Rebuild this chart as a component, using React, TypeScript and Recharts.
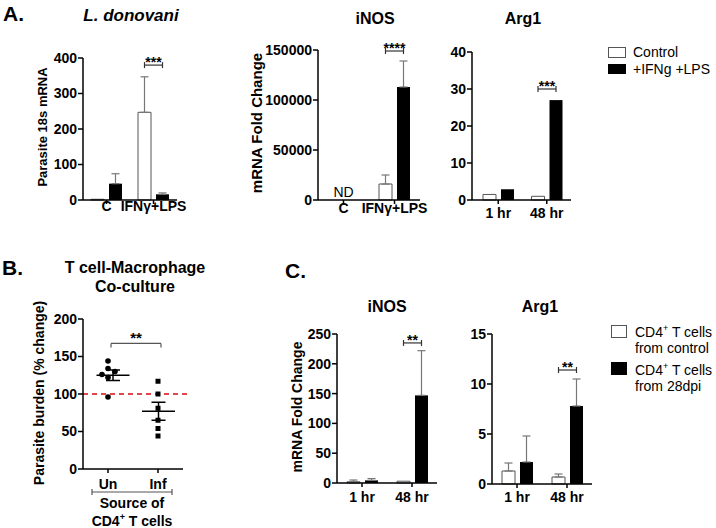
import React from "react";
import {
  BarChart,
  Bar,
  XAxis,
  YAxis,
  ErrorBar,
  ScatterChart,
  Scatter,
  ReferenceLine,
} from "recharts";

const FONT = "'Liberation Sans', Arial, Helvetica, sans-serif";
const BAR_SIZE = 13;
const BAR_GAP = 5;
const ERR = "#777";
const OUTLINE = "#555";

// A. L. donovani parasite load
const parasiteCats = ["C", "IFNγ+LPS"];
const parasiteControl = [2, 247];
const parasiteControlErr = [null, 100];
const parasiteTreated = [46, 16];
const parasiteTreatedErr = [28, 4];
const parasiteSig = [null, 380];
const parasiteStars = ["", "***"];

// A. iNOS
const inosCats = ["C", "IFNγ+LPS"];
const inosControl = [0, 16000];
const inosControlErr = [null, 9000];
const inosTreated = [0, 113000];
const inosTreatedErr = [null, 26000];
const inosSig = [null, 149000];
const inosStars = ["", "****"];
const inosNd = [true, false];

// A. Arg1
const arg1Cats = ["1 hr", "48 hr"];
const arg1Control = [1.5, 1.0];
const arg1Treated = [2.9, 27];
const arg1Sig = [null, 30];
const arg1Stars = ["", "***"];

// B. co-culture
const bCats = ["Un", "Inf"];
const unX = [1.0, 1.0, 1.14, 0.88, 1.0, 1.0];
const unY = [144, 134, 130, 126, 122, 96];
const infX = [2.0, 2.0, 2.0, 2.0, 2.0, 2.0];
const infY = [117, 100, 81, 65, 54, 44];
const groupCenter = [1.1, 2.01];
const groupMean = [125, 77];
const groupSemLow = [118, 65];
const groupSemHigh = [132, 89];

// C. iNOS / Arg1 after T cell co-culture
const cCats = ["1 hr", "48 hr"];
const cInosControl = [2, 3];
const cInosControlErr = [3, null];
const cInosTreated = [4.4, 147];
const cInosTreatedErr = [3, 75];
const cInosSig = [null, 235];
const cInosStars = ["", "**"];

const cArgControl = [1.3, 0.7];
const cArgControlErr = [0.8, 0.3];
const cArgTreated = [2.2, 7.8];
const cArgTreatedErr = [2.6, 2.7];
const cArgSig = [null, 11.4];
const cArgStars = ["", "**"];

type Row = {
  cat: string;
  control: number;
  controlErr: number[] | null;
  treated: number;
  treatedErr: number[] | null;
  sig: number | null;
  stars: string;
  nd: boolean;
};

const rows = (
  cats: string[],
  control: number[],
  controlErr: (number | null)[] | null,
  treated: number[],
  treatedErr: (number | null)[] | null,
  sig: (number | null)[],
  stars: string[],
  nd?: boolean[]
): Row[] =>
  cats.map((c, i) => ({
    cat: c,
    control: control[i],
    controlErr: controlErr && controlErr[i] != null ? [0, controlErr[i] as number] : null,
    treated: treated[i],
    treatedErr: treatedErr && treatedErr[i] != null ? [0, treatedErr[i] as number] : null,
    sig: sig[i],
    stars: stars[i],
    nd: nd ? nd[i] : false,
  }));

const parasiteData = rows(parasiteCats, parasiteControl, parasiteControlErr, parasiteTreated, parasiteTreatedErr, parasiteSig, parasiteStars);
const inosData = rows(inosCats, inosControl, inosControlErr, inosTreated, inosTreatedErr, inosSig, inosStars, inosNd);
const arg1Data = rows(arg1Cats, arg1Control, null, arg1Treated, null, arg1Sig, arg1Stars);
const cInosData = rows(cCats, cInosControl, cInosControlErr, cInosTreated, cInosTreatedErr, cInosSig, cInosStars);
const cArgData = rows(cCats, cArgControl, cArgControlErr, cArgTreated, cArgTreatedErr, cArgSig, cArgStars);

const unData = unX.map((x, i) => ({ x, y: unY[i] }));
const infData = infX.map((x, i) => ({ x, y: infY[i] }));

const tickStyle = { fill: "#000", fontSize: 14, fontWeight: "bold", fontFamily: FONT };
const axisLine = { stroke: "#000", strokeWidth: 1.5 };

// black bar, plus the significance bracket / ND note of its group
const makeTreatedShape = (yMax: number, plotTop: number, plotH: number) => (props: any) => {
  const { x, y, width, height, payload } = props;
  const d: Row = payload;
  const cx = x + width / 2;
  const wx = cx - width - BAR_GAP;
  const base = y + height;
  const toY = (v: number) => plotTop + plotH - (v / yMax) * plotH;
  return (
    <g>
      {height > 0 && <rect x={x} y={y} width={width} height={height} fill="#000" />}
      {d && d.nd && (
        <text x={(cx + wx) / 2} y={base - 3} textAnchor="middle" fontSize={14} fontFamily={FONT} fill="#000">
          ND
        </text>
      )}
      {d && d.sig != null && (
        <g stroke="#333" strokeWidth={1.2}>
          <line x1={wx} x2={cx} y1={toY(d.sig)} y2={toY(d.sig)} />
          <line x1={wx} x2={wx} y1={toY(d.sig) - 3} y2={toY(d.sig) + 3} />
          <line x1={cx} x2={cx} y1={toY(d.sig) - 3} y2={toY(d.sig) + 3} />
          <text x={(wx + cx) / 2} y={toY(d.sig) + 2} textAnchor="middle" fontSize={14} fontWeight="bold" fontFamily={FONT} fill="#000" stroke="none">
            {d.stars}
          </text>
        </g>
      )}
    </g>
  );
};

type PanelProps = {
  data: Row[];
  left: number;
  top: number;
  plotW: number;
  plotH: number;
  yDomain: number[];
  yTicks: number[];
  padLeft?: number;
  xMargin: number;
};

const BarPanel = ({ data, left, top, plotW, plotH, yDomain, yTicks, padLeft = 0, xMargin }: PanelProps) => {
  const YW = 60, MT = 30, MR = 12, XH = 30;
  return (
    <div style={{ position: "absolute", left: left - YW, top: top - MT }}>
      <BarChart
        width={YW + plotW + MR}
        height={MT + plotH + XH}
        data={data}
        margin={{ top: MT, right: MR, bottom: 0, left: 0 }}
        barSize={BAR_SIZE}
        barGap={BAR_GAP}
      >
        <XAxis
          dataKey="cat"
          interval={0}
          height={XH}
          padding={{ left: padLeft, right: 0 }}
          tickSize={4}
          tickMargin={xMargin}
          axisLine={axisLine}
          tickLine={axisLine}
          tick={tickStyle}
        />
        <YAxis
          width={YW}
          domain={yDomain}
          ticks={yTicks}
          interval={0}
          tickSize={5}
          tickMargin={1}
          axisLine={axisLine}
          tickLine={axisLine}
          tick={tickStyle}
        />
        <Bar dataKey="control" fill="#fff" stroke={OUTLINE} strokeWidth={1} isAnimationActive={false}>
          <ErrorBar dataKey="controlErr" direction="y" width={4} stroke={ERR} strokeWidth={1.2} />
        </Bar>
        <Bar dataKey="treated" fill="#000" isAnimationActive={false} shape={makeTreatedShape(yDomain[1], MT, plotH)}>
          <ErrorBar dataKey="treatedErr" direction="y" width={4} stroke={ERR} strokeWidth={1.2} />
        </Bar>
      </BarChart>
    </div>
  );
};

const Dot = (props: any) => <circle cx={props.cx} cy={props.cy} r={2.8} fill="#000" />;
const Sq = (props: any) => <rect x={props.cx - 2.5} y={props.cy - 2.5} width={5} height={5} fill="#000" />;

const CoCulturePanel = () => {
  const YW = 60, MT = 30, MR = 20, XH = 30;
  const plotW = 100, plotH = 150;
  const meanHalf = 0.33;
  const semHalf = 0.14;
  const line = { stroke: "#000", strokeWidth: 1.5 };
  return (
    <div style={{ position: "absolute", left: 83 - YW, top: 319 - MT }}>
      <ScatterChart width={YW + plotW + MR} height={MT + plotH + XH} margin={{ top: MT, right: MR, bottom: 0, left: 0 }}>
        <XAxis
          type="number"
          dataKey="x"
          domain={[0.5, 2.5]}
          ticks={[1, 2]}
          interval={0}
          tickFormatter={(v: number) => bCats[Math.round(v) - 1]}
          height={XH}
          tickSize={4}
          tickMargin={6}
          axisLine={axisLine}
          tickLine={axisLine}
          tick={tickStyle}
        />
        <YAxis
          type="number"
          dataKey="y"
          width={YW}
          domain={[0, 200]}
          ticks={[0, 50, 100, 150, 200]}
          interval={0}
          tickSize={5}
          tickMargin={1}
          axisLine={axisLine}
          tickLine={axisLine}
          tick={tickStyle}
        />
        <ReferenceLine
          segment={[{ x: 0.5, y: 100 }, { x: 2.64, y: 100 }]}
          ifOverflow="visible"
          stroke="#e0474c"
          strokeWidth={2}
          strokeDasharray="5 4"
        />
        {groupCenter.map((c, i) => (
          <React.Fragment key={i}>
            <ReferenceLine segment={[{ x: c - meanHalf, y: groupMean[i] }, { x: c + meanHalf, y: groupMean[i] }]} {...line} />
            <ReferenceLine segment={[{ x: c - semHalf, y: groupSemLow[i] }, { x: c + semHalf, y: groupSemLow[i] }]} {...line} />
            <ReferenceLine segment={[{ x: c - semHalf, y: groupSemHigh[i] }, { x: c + semHalf, y: groupSemHigh[i] }]} {...line} />
            <ReferenceLine segment={[{ x: c, y: groupSemLow[i] }, { x: c, y: groupSemHigh[i] }]} {...line} />
          </React.Fragment>
        ))}
        <ReferenceLine
          segment={[{ x: 1.06, y: 167.5 }, { x: 2.06, y: 167.5 }]}
          stroke="#555"
          strokeWidth={1.2}
          label={{ value: "**", position: "top", offset: 0, fill: "#000", fontSize: 15, fontWeight: "bold", fontFamily: FONT }}
        />
        <ReferenceLine segment={[{ x: 1.06, y: 167.5 }, { x: 1.06, y: 162 }]} stroke="#555" strokeWidth={1.2} />
        <ReferenceLine segment={[{ x: 2.06, y: 167.5 }, { x: 2.06, y: 162 }]} stroke="#555" strokeWidth={1.2} />
        <Scatter data={unData} shape={Dot} isAnimationActive={false} />
        <Scatter data={infData} shape={Sq} isAnimationActive={false} />
      </ScatterChart>
    </div>
  );
};

const T = (p: any) => <text fontFamily={FONT} fill="#000" {...p} />;

const Overlay = () => (
  <svg width={716} height={528} style={{ position: "absolute", left: 0, top: 0, pointerEvents: "none" }}>
    {/* panel letters */}
    <T x={3} y={21} fontSize={21} fontWeight="bold">A.</T>
    <T x={2} y={275} fontSize={21} fontWeight="bold">B.</T>
    <T x={285} y={278} fontSize={21} fontWeight="bold">C.</T>

    {/* titles */}
    <T x={131} y={21} fontSize={17} fontWeight="bold" fontStyle="italic" textAnchor="middle">L. donovani</T>
    <T x={375} y={24} fontSize={16} fontWeight="bold" textAnchor="middle">iNOS</T>
    <T x={523} y={24} fontSize={16} fontWeight="bold" textAnchor="middle">Arg1</T>
    <T x={135} y={273} fontSize={16} fontWeight="bold" textAnchor="middle">T cell-Macrophage</T>
    <T x={135} y={292} fontSize={16} fontWeight="bold" textAnchor="middle">Co-culture</T>
    <T x={387} y={312} fontSize={16} fontWeight="bold" textAnchor="middle">iNOS</T>
    <T x={540} y={312} fontSize={16} fontWeight="bold" textAnchor="middle">Arg1</T>

    {/* y-axis labels */}
    <T x={42} y={127} fontSize={13} fontWeight="bold" textAnchor="middle" dominantBaseline="central" transform="rotate(-90 42 127)">Parasite 18s mRNA</T>
    <T x={256} y={123} fontSize={15} fontWeight="bold" textAnchor="middle" dominantBaseline="central" transform="rotate(-90 256 123)">mRNA Fold Change</T>
    <T x={39} y={393} fontSize={14} fontWeight="bold" textAnchor="middle" dominantBaseline="central" transform="rotate(-90 39 393)">Parasite burden (% change)</T>
    <T x={297} y={407} fontSize={14} fontWeight="bold" textAnchor="middle" dominantBaseline="central" transform="rotate(-90 297 407)">mRNA Fold Change</T>

    {/* B x-axis grouping */}
    <g stroke="#555" strokeWidth={1.2}>
      <line x1={92} x2={172} y1={492} y2={492} />
      <line x1={92} x2={92} y1={489} y2={495} />
      <line x1={172} x2={172} y1={489} y2={495} />
    </g>
    <T x={132} y={508} fontSize={14} fontWeight="bold" textAnchor="middle">Source of</T>
    <T x={132} y={526} fontSize={14} fontWeight="bold" textAnchor="middle">
      CD4<tspan dy={-6} fontSize={9}>+</tspan><tspan dy={6}> T cells</tspan>
    </T>

    {/* legend A */}
    <rect x={608.5} y={47.5} width={17} height={10} fill="#fff" stroke={OUTLINE} />
    <rect x={608} y={64} width={18} height={10} fill="#000" />
    <T x={633} y={57} fontSize={14}>Control</T>
    <T x={633} y={74} fontSize={14}>+IFNg +LPS</T>

    {/* legend C */}
    <rect x={611.5} y={325.5} width={15} height={12} fill="#fff" stroke={OUTLINE} />
    <rect x={611} y={362} width={16} height={13} fill="#000" />
    <T x={635} y={336.5} fontSize={14}>
      CD4<tspan dy={-6} fontSize={9}>+</tspan><tspan dy={6}> T cells</tspan>
    </T>
    <T x={635} y={353} fontSize={14}>from control</T>
    <T x={635} y={375} fontSize={14}>
      CD4<tspan dy={-6} fontSize={9}>+</tspan><tspan dy={6}> T cells</tspan>
    </T>
    <T x={635} y={391} fontSize={14}>from 28dpi</T>
  </svg>
);

export default function App() {
  return (
    <div style={{ position: "absolute", left: 0, top: 0, width: 716, height: 528, background: "#fff", fontFamily: FONT }}>
      <BarPanel data={parasiteData} left={83} top={58} plotW={94} plotH={142} yDomain={[0, 400]} yTicks={[0, 100, 200, 300, 400]} xMargin={-3} />
      <BarPanel data={inosData} left={318} top={50} plotW={102} plotH={150} yDomain={[0, 150000]} yTicks={[0, 50000, 100000, 150000]} xMargin={-1} />
      <BarPanel data={arg1Data} left={472} top={52} plotW={99} plotH={148} yDomain={[0, 40]} yTicks={[0, 10, 20, 30, 40]} padLeft={2} xMargin={4} />
      <CoCulturePanel />
      <BarPanel data={cInosData} left={337} top={334} plotW={100} plotH={149} yDomain={[0, 250]} yTicks={[0, 50, 100, 150, 200, 250]} xMargin={5} />
      <BarPanel data={cArgData} left={492} top={334} plotW={100} plotH={150} yDomain={[0, 15]} yTicks={[0, 5, 10, 15]} xMargin={4} />
      <Overlay />
    </div>
  );
}
